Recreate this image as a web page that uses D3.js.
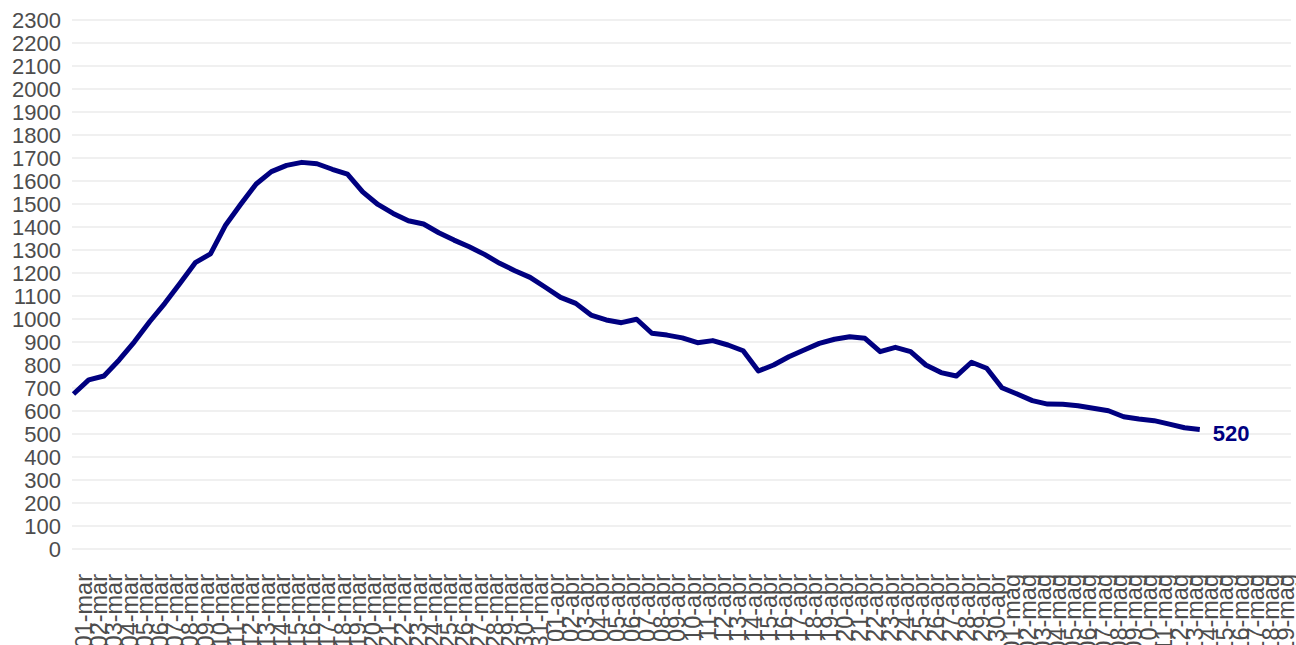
<!DOCTYPE html>
<html>
<head>
<meta charset="utf-8">
<script src="https://cdn.jsdelivr.net/npm/d3@7"></script>
<style>
  body { margin: 0; background: #fff; }
  svg { display: block; font-family: "Liberation Sans", Arial, sans-serif; }
</style>
</head>
<body>
<div id="chart"></div>
<script>
// ------- Data -------

const dates = [
  "01-mar", "02-mar", "03-mar", "04-mar", "05-mar", "06-mar", "07-mar", "08-mar", "09-mar", "10-mar",
  "11-mar", "12-mar", "13-mar", "14-mar", "15-mar", "16-mar", "17-mar", "18-mar", "19-mar", "20-mar",
  "21-mar", "22-mar", "23-mar", "24-mar", "25-mar", "26-mar", "27-mar", "28-mar", "29-mar", "30-mar",
  "31-mar",
  "01-apr", "02-apr", "03-apr", "04-apr", "05-apr", "06-apr", "07-apr", "08-apr", "09-apr", "10-apr",
  "11-apr", "12-apr", "13-apr", "14-apr", "15-apr", "16-apr", "17-apr", "18-apr", "19-apr", "20-apr",
  "21-apr", "22-apr", "23-apr", "24-apr", "25-apr", "26-apr", "27-apr", "28-apr", "29-apr", "30-apr",
  "01-mag", "02-mag", "03-mag", "04-mag", "05-mag", "06-mag", "07-mag", "08-mag", "09-mag", "10-mag",
  "11-mag", "12-mag", "13-mag", "14-mag", "15-mag", "16-mag", "17-mag", "18-mag", "19-mag"
];

// one value per day, 01-mar .. 14-mag
const values = [
  674, 735, 752, 822, 901, 988, 1068, 1155, 1245, 1283,
  1409, 1500, 1587, 1641, 1668, 1681, 1675, 1651, 1630, 1553,
  1498, 1459, 1427, 1413, 1375, 1343, 1314, 1281, 1242, 1210,
  1181,
  1138, 1094, 1068, 1017, 996, 984, 999, 938, 930, 918,
  897, 906, 887, 862, 774, 800, 836, 865, 894, 912,
  923, 916, 858, 877, 858, 800, 767, 752, 812, 786,
  701, 674, 645, 630, 629, 623, 612, 601, 575, 565,
  558, 543, 527, 520
];

const yTickValues = [
  0, 100, 200, 300, 400, 500, 600, 700, 800, 900, 1000, 1100,
  1200, 1300, 1400, 1500, 1600, 1700, 1800, 1900, 2000, 2100, 2200, 2300
];

// ------- SVG setup -------

const width = 1296;
const height = 645;
const panel = { left: 72, right: 1291, top: 20, bottom: 549 };
const fontFamily = "'Liberation Sans', Arial, sans-serif";

const svg = d3
  .select("#chart")
  .append("svg")
  .attr("width", width)
  .attr("height", height);

const x = d3
  .scalePoint()
  .domain(dates)
  .range([73.5, 73.5 + 15.22 * (dates.length - 1)]);

const y = d3
  .scaleLinear()
  .domain([0, 2300])
  .range([panel.bottom, panel.top]);

// ------- Grid -------

svg
  .append("g")
  .selectAll("line")
  .data(yTickValues)
  .join("line")
  .attr("x1", panel.left)
  .attr("x2", panel.right)
  .attr("y1", (d) => y(d))
  .attr("y2", (d) => y(d))
  .attr("stroke", "#ebebeb")
  .attr("stroke-width", 1.6);

// ------- Axes -------

const yAxisG = svg
  .append("g")
  .attr("transform", "translate(61,0)")
  .call(
    d3
      .axisLeft(y)
      .tickValues(yTickValues)
      .tickFormat(d3.format("d"))
      .tickSize(0)
      .tickPadding(0)
  );

yAxisG.select(".domain").remove();
yAxisG
  .selectAll("text")
  .attr("fill", "#4d4d4d")
  .style("font-size", "22px")
  .style("font-family", fontFamily);

const xAxisG = svg
  .append("g")
  .attr("transform", "translate(0,574)")
  .call(d3.axisBottom(x).tickSize(0).tickPadding(0));

xAxisG.select(".domain").remove();
xAxisG
  .selectAll("text")
  .attr("x", 0)
  .attr("y", 0)
  .attr("dy", "0.76em")
  .attr("transform", "rotate(-90)")
  .style("text-anchor", "end")
  .attr("fill", "#4d4d4d")
  .style("font-size", "23.5px")
  .style("font-family", fontFamily);

// ------- Line -------

const series = values.map((v, i) => ({ date: dates[i], value: v }));

svg
  .append("path")
  .datum(series)
  .attr("fill", "none")
  .attr("stroke", "#000080")
  .attr("stroke-width", 5)
  .attr("stroke-linejoin", "round")
  .attr("d", d3.line().x((d) => x(d.date)).y((d) => y(d.value)));

// last value label
const last = series[series.length - 1];

svg
  .append("text")
  .attr("x", x(last.date) + 13)
  .attr("y", y(last.value) + 4)
  .attr("dy", "0.35em")
  .attr("fill", "#000080")
  .style("font-size", "22px")
  .style("font-weight", "bold")
  .style("font-family", fontFamily)
  .text(last.value);
</script>
</body>
</html>
